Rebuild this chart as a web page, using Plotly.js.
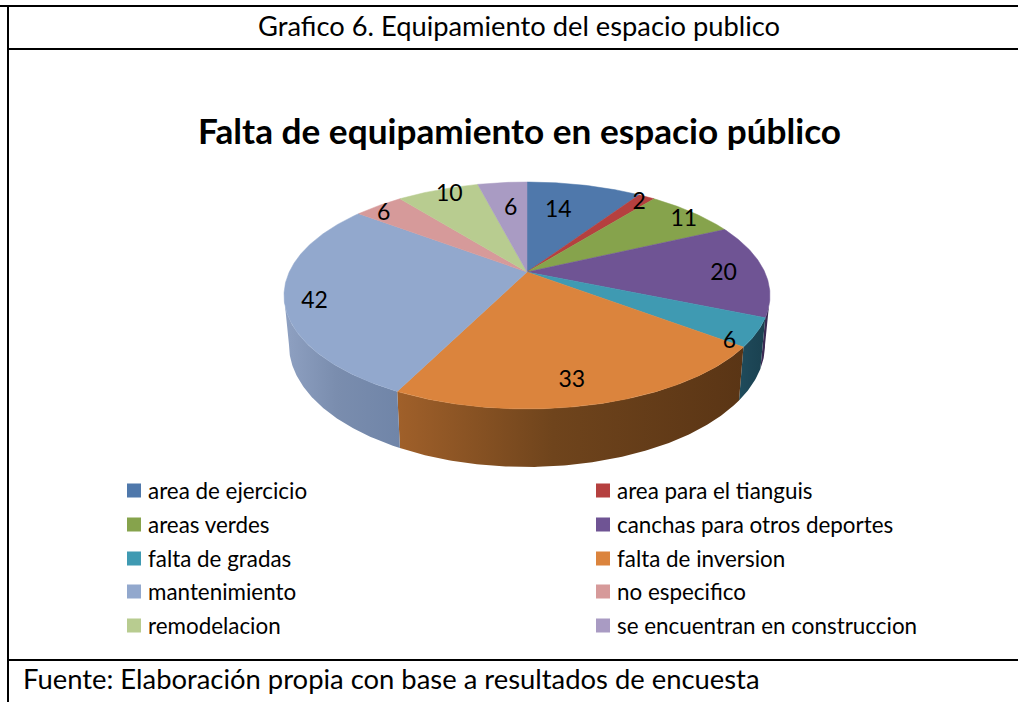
<!DOCTYPE html>
<html><head><meta charset="utf-8">
<script src="https://cdn.plot.ly/plotly-3.0.1.min.js"></script>
<style>html,body{margin:0;padding:0;background:#fff}#c{width:1018px;height:702px}</style>
</head><body><div id="c"></div>
<script>
const categories = ["area de ejercicio","area para el tianguis","areas verdes","canchas para otros deportes","falta de gradas","falta de inversion","mantenimiento","no especifico","remodelacion","se encuentran en construccion"];
const values = [14,2,11,20,6,33,42,6,10,6];
const sliceColors = ["#4f78ab","#b5403f","#86a34c","#6f5494","#3f9ab2","#db843d","#92a8cd","#d69a9a","#b8cc90","#a99bc3"];
const wallColors = [["#3a5a80","#3a5a80","#3a5a80"],["#80302f","#80302f","#80302f"],["#607536","#607536","#607536"],["#3c2a55","#3b2a52","#3a2a50"],["#1f4c5c","#1d4656","#1a4150"],["#a0602a","#6f441c","#5a3515"],["#8fa1c2","#7a8dae","#7085a8"],["#a07070","#a07070","#a07070"],["#8a9a6a","#8a9a6a","#8a9a6a"],["#7a6f90","#7a6f90","#7a6f90"]];
const labelRadius = [0.7,0.9,0.95,0.83,0.92,0.8,0.88,0.9,0.85,0.75];
const labelNudgeX = [-11,3,-1,0,-7,-7,0,-8,0,3];
const labelNudgeY = [3.5,-0.5,5.5,4.5,15.5,8.5,7.5,2.5,-5.5,7.5];
const mainTitle = "Falta de equipamiento en espacio público";
const headerText = "Grafico 6. Equipamiento del espacio publico";
const sourceText = "Fuente: Elaboración propia con base a resultados de encuesta";
const legendRowY = [491,525,559,592,626];
const legendColumnX = [108,577];

// Tilted-disc geometry in figure pixels
const apex = {x:527, y:272}, persp = 0.207, yScale = 108.6;
const rimRx = 243, rimRy = 113.5, rimCy = 295.5;
const xScale = rimRx*Math.sqrt(1-persp*persp);
const baseRx = 238, baseRy = 122, baseCy = 345;
const total = values.reduce((a,b)=>a+b,0);

function project(theta,r){
  const X=r*Math.sin(theta), Y=r*Math.cos(theta), d=1+persp*Y;
  return [apex.x+xScale*X/d, apex.y-yScale*Y/d];
}
function baseOf(p){
  const u=(p[0]-apex.x)/rimRx, v=(p[1]-rimCy)/rimRy;
  return [apex.x+baseRx*u, baseCy+baseRy*v];
}
const frontStart=Math.acos(-persp), frontEnd=2*Math.PI-frontStart;
function arc(a,b){const n=Math.max(2,Math.ceil((b-a)/0.01)),o=[];for(let i=0;i<=n;i++)o.push(a+(b-a)*i/n);return o;}

const traces=[], walls=[], tops=[];
let acc=0;
const lx=[],ly=[],lt=[];
values.forEach((v,i)=>{
  const a=acc/total*2*Math.PI, b=(acc+v)/total*2*Math.PI; acc+=v;
  const top=arc(a,b).map(t=>project(t,1));
  tops.push({type:"scatter",mode:"lines",x:[apex.x,...top.map(p=>p[0]),apex.x],y:[apex.y,...top.map(p=>p[1]),apex.y],
    fill:"toself",fillcolor:sliceColors[i],line:{color:sliceColors[i],width:0.5},showlegend:false,hoverinfo:"skip"});
  const wa=Math.max(a,frontStart), wb=Math.min(b,frontEnd);
  if(wb>wa){
    const rim=arc(wa,wb).map(t=>project(t,1));
    const base=rim.map(baseOf).reverse();
    const pts=rim.concat(base); pts.push(rim[0]);
    const c=wallColors[i];
    walls.push({type:"scatter",mode:"lines",x:pts.map(p=>p[0]),y:pts.map(p=>p[1]),fill:"toself",
      fillgradient:{type:"horizontal",colorscale:[[0,c[0]],[0.45,c[1]],[1,c[2]]]},
      line:{color:c[2],width:0},showlegend:false,hoverinfo:"skip"});
  }
  const p=project((a+b)/2,labelRadius[i]);
  lx.push(p[0]+labelNudgeX[i]); ly.push(p[1]+labelNudgeY[i]); lt.push(String(v));
});
traces.push(...walls,...tops);
traces.push({type:"scatter",mode:"text",x:lx,y:ly,text:lt,textposition:"middle center",
  textfont:{family:"Lato, sans-serif",size:23,color:"#000"},showlegend:false,hoverinfo:"skip"});

const legendId=i=>i===0?"legend":"legend"+(i+1);
categories.forEach((c,i)=>{
  traces.push({type:"scatter",mode:"markers",x:[null],y:[null],name:c,legend:legendId(i),
    marker:{symbol:"square",size:14,color:sliceColors[i]},hoverinfo:"skip"});
});

const layout={
  width:1018,height:702,margin:{l:0,r:0,t:0,b:0,autoexpand:false},
  paper_bgcolor:"#fff",plot_bgcolor:"#fff",
  font:{family:"Lato, sans-serif",color:"#000"},
  title:{text:"<b>"+mainTitle+"</b>",font:{family:"Lato, sans-serif",size:35.2,color:"#000"},x:519.5/1018,xanchor:"center",y:1-132/702,yanchor:"middle",xref:"container",yref:"container"},
  xaxis:{range:[0,1018],visible:false,fixedrange:true},
  yaxis:{range:[702,0],visible:false,fixedrange:true},
  shapes:[[0,6,1018,6],[8,49,1018,49],[8,660,1018,660],[8,6,8,702]].map(s=>({type:"line",xref:"x",yref:"y",x0:s[0],y0:s[1],x1:s[2],y1:s[3],line:{color:"#000",width:2}})),
  annotations:[
    {text:headerText,xref:"x",yref:"y",x:519,y:25,showarrow:false,xanchor:"center",yanchor:"middle",font:{family:"Lato, sans-serif",size:27.3,color:"#000"}},
    {text:sourceText,xref:"x",yref:"y",x:20.5,y:678.5,showarrow:false,xanchor:"left",yanchor:"middle",font:{family:"Lato, sans-serif",size:27.4,color:"#000"}}
  ],
  showlegend:true
};
categories.forEach((c,i)=>{
  layout[legendId(i)]={orientation:"v",x:legendColumnX[i%2]/1018,xanchor:"left",y:1-legendRowY[Math.floor(i/2)]/702,yanchor:"middle",
    bgcolor:"rgba(0,0,0,0)",borderwidth:0,font:{family:"Lato, sans-serif",size:22.4,color:"#000"},itemclick:false,itemdoubleclick:false};
});
Plotly.newPlot("c",traces,layout,{displayModeBar:false,staticPlot:true}).then(gd=>{
  gd.querySelectorAll(".legendsymbols").forEach(s=>s.setAttribute("transform","translate(6,0)"));
});
</script></body></html>
